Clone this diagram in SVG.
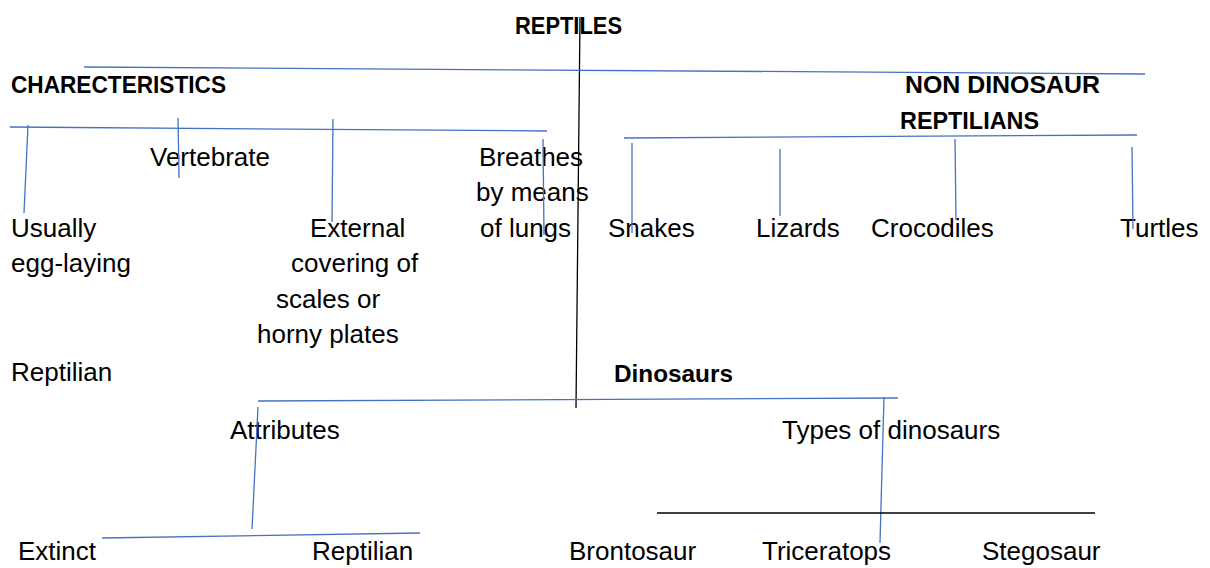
<svg xmlns="http://www.w3.org/2000/svg" width="1210" height="568" viewBox="0 0 1210 568">
<style>
.t{font-family:"Liberation Sans",Arial,sans-serif;font-size:26px;fill:#000}
.b{font-family:"Liberation Sans",Arial,sans-serif;font-size:24px;font-weight:bold;fill:#000}
.bl{stroke:#4472C4;stroke-width:1.3;fill:none}
.bk{stroke:#000;stroke-width:1.3;fill:none}
</style>
<rect width="1210" height="568" fill="#fff"/>
<g id="nodes">
<g id="reptiles"><text class="b" x="515" y="34" textLength="107" lengthAdjust="spacingAndGlyphs">REPTILES</text></g>
<g id="characteristics"><text class="b" x="11" y="93" textLength="215" lengthAdjust="spacingAndGlyphs">CHARECTERISTICS</text></g>
<g id="non-dinosaur"><text class="b" x="905" y="93" textLength="195" lengthAdjust="spacingAndGlyphs">NON DINOSAUR</text><text class="b" x="900" y="129" textLength="139" lengthAdjust="spacingAndGlyphs">REPTILIANS</text></g>
<g id="vertebrate"><text class="t" x="150" y="166">Vertebrate</text></g>
<g id="breathes"><text class="t" x="479" y="166">Breathes</text><text class="t" x="476" y="201">by means</text><text class="t" x="480" y="237">of lungs</text></g>
<g id="egg-laying"><text class="t" x="11" y="237">Usually</text><text class="t" x="11" y="272">egg-laying</text></g>
<g id="external"><text class="t" x="310" y="237">External</text><text class="t" x="291" y="272">covering of</text><text class="t" x="276" y="308">scales or</text><text class="t" x="257" y="343">horny plates</text></g>
<g id="reptilian1"><text class="t" x="11" y="381">Reptilian</text></g>
<g id="snakes"><text class="t" x="608" y="237">Snakes</text></g>
<g id="lizards"><text class="t" x="756" y="237">Lizards</text></g>
<g id="crocodiles"><text class="t" x="871" y="237">Crocodiles</text></g>
<g id="turtles"><text class="t" x="1120" y="237">Turtles</text></g>
<g id="dinosaurs"><text class="b" x="614" y="382" textLength="119" lengthAdjust="spacingAndGlyphs">Dinosaurs</text></g>
<g id="attributes"><text class="t" x="230" y="439">Attributes</text></g>
<g id="types"><text class="t" x="782" y="439">Types of dinosaurs</text></g>
<g id="extinct"><text class="t" x="18" y="560">Extinct</text></g>
<g id="reptilian2"><text class="t" x="312" y="560">Reptilian</text></g>
<g id="brontosaur"><text class="t" x="569" y="560">Brontosaur</text></g>
<g id="triceratops"><text class="t" x="762" y="560">Triceratops</text></g>
<g id="stegosaur"><text class="t" x="982" y="560">Stegosaur</text></g>
</g>
<g id="connectors">
<line class="bk" x1="580" y1="17" x2="576" y2="408"/>
<line class="bl" x1="84" y1="67" x2="1145" y2="74"/>
<line class="bl" x1="10" y1="127" x2="547" y2="131"/>
<line class="bl" x1="28" y1="125" x2="24" y2="213"/>
<line class="bl" x1="178" y1="118" x2="179" y2="178"/>
<line class="bl" x1="333" y1="119" x2="332" y2="222"/>
<line class="bl" x1="543" y1="139" x2="544" y2="235"/>
<line class="bl" x1="624" y1="138" x2="1137" y2="135"/>
<line class="bl" x1="632" y1="143" x2="632" y2="233"/>
<line class="bl" x1="780" y1="149" x2="780" y2="216"/>
<line class="bl" x1="955" y1="139" x2="956" y2="220"/>
<line class="bl" x1="1132" y1="147" x2="1133" y2="229"/>
<line class="bl" x1="258" y1="401" x2="898" y2="398"/>
<line class="bl" x1="258" y1="407" x2="252" y2="529"/>
<line class="bl" x1="102" y1="538" x2="420" y2="533"/>
<line class="bl" x1="884" y1="397" x2="880" y2="543"/>
<line class="bk" x1="657" y1="513" x2="1095" y2="513"/>
</g>
</svg>
